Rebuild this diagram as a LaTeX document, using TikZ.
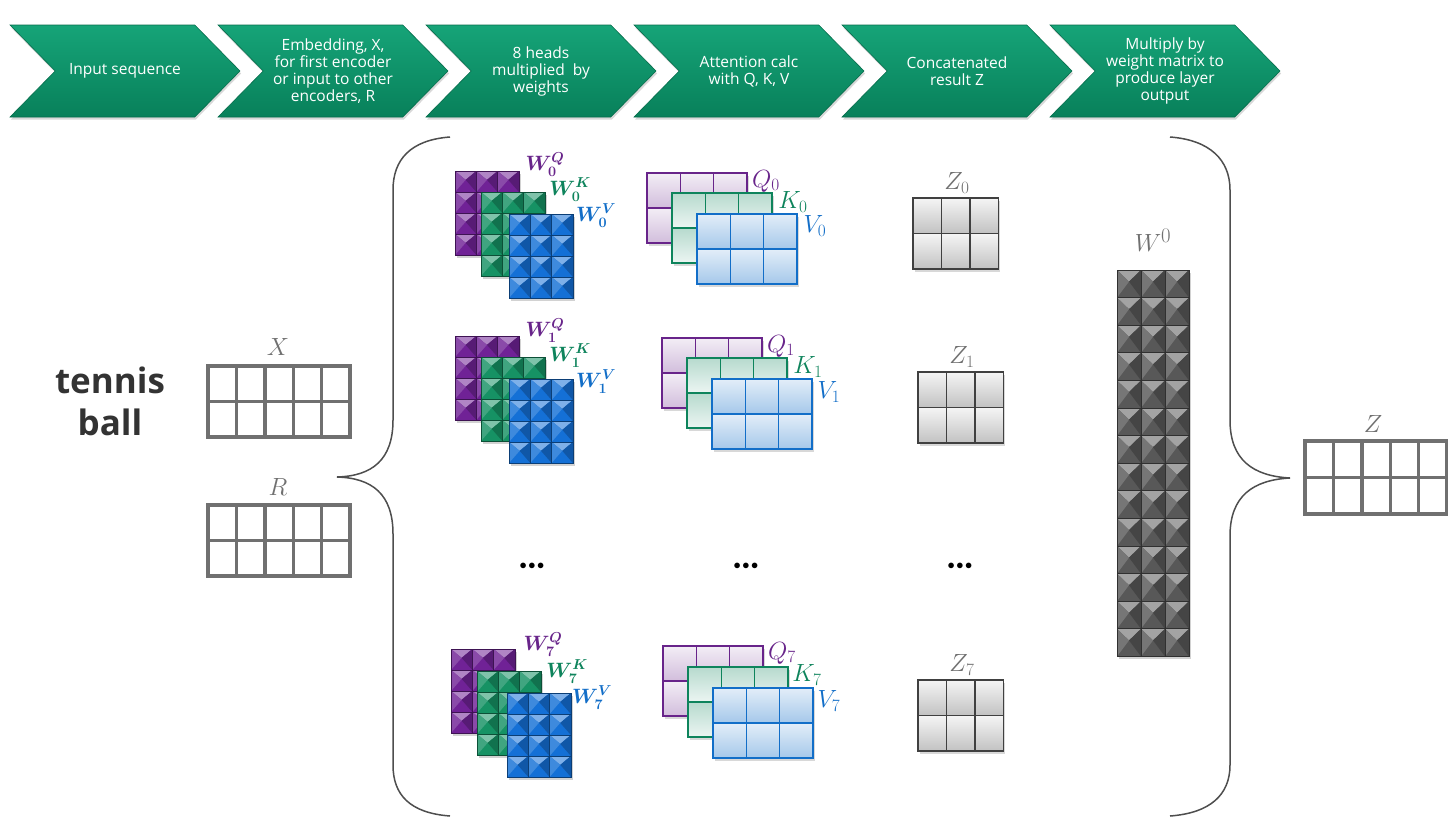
\documentclass[tikz,border=0pt]{standalone}
\usepackage{fontspec}
\setsansfont{Open Sans}
\usepackage{tikz}
\usetikzlibrary{shapes.symbols,shadows,positioning}
\definecolor{chevtop}{RGB}{22,164,120}
\definecolor{chevbot}{RGB}{8,128,90}
\definecolor{labgray}{RGB}{112,112,112}
\definecolor{gridgray}{RGB}{112,112,112}
\definecolor{bracegray}{RGB}{78,78,78}
\definecolor{purp}{RGB}{104,36,138}
\definecolor{grn}{RGB}{14,132,92}
\definecolor{blu}{RGB}{18,110,200}
\definecolor{wpurp}{RGB}{112,34,150}
\definecolor{wgrn}{RGB}{22,146,100}
\definecolor{wblu}{RGB}{20,112,214}
\definecolor{wdark}{RGB}{88,88,88}

% bevelled weight block: name, x, y, cols, rows, cell w, cell h, colour
\newcommand{\bevelmat}[8]{%
  \node[blockbase,fill=#8,minimum width={#4*#6},minimum height={#5*#7}] (#1) at (#2,#3) {};
  \foreach \ci in {1,...,#4}{
    \foreach \rj in {1,...,#5}{
      \coordinate (cell) at ({#2+(\ci-1)*#6},{#3+(\rj-1)*#7});
      \fill[#8!55!white] (cell) -- ++(#6,0) -- ++({-#6/2},{0.42*#7}) -- cycle;
      \fill[#8!82!white] (cell) -- ++({#6/2},{0.42*#7}) -- ++({-#6/2},{0.58*#7}) -- cycle;
      \fill[#8!78!black] (cell) ++(#6,0) -- ++({-#6/2},{0.42*#7}) -- ++({#6/2},{0.58*#7}) -- cycle;
      \draw[#8!55!black,line width=0.7pt] (cell) rectangle ++(#6,#7);
    }}}
% plain grid: name, x, y, cols, rows, cell w, cell h, frame style, cell style
\newcommand{\gridmat}[9]{%
  \node[#8,minimum width={#4*#6},minimum height={#5*#7}] (#1) at (#2,#3) {};
  \foreach \ci in {1,...,#4}{
    \foreach \rj in {1,...,#5}{
      \draw[#9] ({#2+(\ci-1)*#6},{#3+(\rj-1)*#7}) rectangle ++(#6,#7);
    }}}

\begin{document}
\begin{tikzpicture}[
    x=1pt,y=-1pt,
    chev/.style={signal,signal to=east,signal from=west,signal pointer angle=91,
                 minimum width=230pt,minimum height=92pt,inner sep=0pt,
                 top color=chevtop,bottom color=chevbot,draw=chevbot!85!black,line width=0.6pt,
                 text=white,align=center,font=\sffamily\fontsize{15.5}{17}\selectfont,
                 drop shadow={opacity=0.3,shadow xshift=1pt,shadow yshift=-2.5pt}},
    blockbase/.style={rectangle,anchor=north west,inner sep=0pt,outer sep=0pt,
                      drop shadow={opacity=0.35,shadow xshift=2pt,shadow yshift=-3pt}},
    frameshadow/.style={rectangle,anchor=north west,inner sep=0pt,fill=white,
                        drop shadow={opacity=0.3,shadow xshift=2pt,shadow yshift=-3pt}},
    frameplain/.style={rectangle,anchor=north west,inner sep=0pt},
    qcell/.style={draw=purp,line width=1.6pt,top color=purp!8!white,bottom color=purp!30!white},
    kcell/.style={draw=grn,line width=1.6pt,top color=grn!30!white,bottom color=grn!8!white},
    vcell/.style={draw=blu,line width=1.6pt,top color=blu!12!white,bottom color=blu!38!white},
    zcell/.style={draw=black!75,line width=1.4pt,top color=black!4,bottom color=black!24},
    xcell/.style={draw=gridgray,line width=3.4pt},
    wlab/.style={font=\fontsize{21}{21}\selectfont\boldmath},
    mlab/.style={font=\fontsize{25}{25}\selectfont},
    biglab/.style={font=\fontsize{31}{31}\selectfont,text=labgray},
    brace/.style={draw=bracegray,line width=1.5pt},
    dots/.style={font=\fontsize{15}{15}\selectfont},
  ]
  \fill[white] (0,0) rectangle (1448,819);
  \useasboundingbox (0,0) rectangle (1448,819);

  % pipeline steps
  \node[chev] (seq) at (125,71) {Input sequence};
  \node[chev] (embed) at (333,71) {Embedding, X,\\for first encoder\\or input to other\\encoders, R};
  \node[chev] (heads) at (541,71) {8 heads\\multiplied\ \ by\\weights};
  \node[chev] (attn) at (749,71) {Attention calc\\with Q, K, V};
  \node[chev] (concat) at (957,71) {Concatenated\\result Z};
  \node[chev] (proj) at (1165,71) {Multiply by\\weight matrix to\\produce layer\\output};

  % input
  \node[font=\sffamily\bfseries\fontsize{35}{42}\selectfont,text=black!80,align=center] (word) at (110,401) {tennis\\ball};
  \gridmat{xmat}{208}{366}{5}{2}{28.4}{35.5}{frameplain}{xcell}
  \node[biglab] (xlab) at (278,347) {$X$};
  \gridmat{rmat}{208}{505}{5}{2}{28.4}{35.5}{frameplain}{xcell}
  \node[biglab] (rlab) at (278,487) {$R$};

  % braces
  \draw[brace] (450,137) .. controls (410,140) and (393,160) .. (393,190) -- (393,420)
    .. controls (393,460) and (372,476) .. (337,477) .. controls (372,478) and (393,494) .. (393,534)
    -- (393,765) .. controls (393,795) and (410,813) .. (450,816);
  \draw[brace] (1170,137) .. controls (1210,140) and (1230,160) .. (1230,190) -- (1230,420)
    .. controls (1230,460) and (1253,476) .. (1290,478) .. controls (1253,480) and (1230,496) .. (1230,536)
    -- (1230,765) .. controls (1230,795) and (1210,813) .. (1170,816);

  % head 0
  \bevelmat{wq0}{455}{171}{3}{4}{21.3}{21}{wpurp}
  \bevelmat{wk0}{481}{192}{3}{4}{21.3}{21}{wgrn}
  \bevelmat{wv0}{509}{214}{3}{4}{21.3}{21}{wblu}
  \node[wlab,text=purp] (wq0l) at (545,165) {$W_0^Q$};
  \node[wlab,text=grn] (wk0l) at (570,190) {$W_0^K$};
  \node[wlab,text=blu] (wv0l) at (596,216) {$W_0^V$};
  \gridmat{q0}{647}{173}{3}{2}{33.3}{35}{frameshadow}{qcell}
  \gridmat{k0}{672}{193}{3}{2}{33.3}{35}{frameshadow}{kcell}
  \gridmat{v0}{697}{214}{3}{2}{33.3}{35}{frameshadow}{vcell}
  \node[mlab,text=purp] (q0l) at (766,181) {$Q_0$};
  \node[mlab,text=grn] (k0l) at (793,202) {$K_0$};
  \node[mlab,text=blu] (v0l) at (815,226) {$V_0$};
  \gridmat{z0}{913}{198}{3}{2}{28.4}{35.5}{frameshadow}{zcell}
  \node[mlab,text=labgray] (z0l) at (957,183) {$Z_0$};

  % head 1
  \bevelmat{wq1}{455}{336}{3}{4}{21.3}{21}{wpurp}
  \bevelmat{wk1}{481}{357}{3}{4}{21.3}{21}{wgrn}
  \bevelmat{wv1}{509}{379}{3}{4}{21.3}{21}{wblu}
  \node[wlab,text=purp] (wq1l) at (545,331) {$W_1^Q$};
  \node[wlab,text=grn] (wk1l) at (570,356) {$W_1^K$};
  \node[wlab,text=blu] (wv1l) at (596,382) {$W_1^V$};
  \gridmat{q1}{662}{338}{3}{2}{33.3}{35}{frameshadow}{qcell}
  \gridmat{k1}{687}{358}{3}{2}{33.3}{35}{frameshadow}{kcell}
  \gridmat{v1}{712}{379}{3}{2}{33.3}{35}{frameshadow}{vcell}
  \node[mlab,text=purp] (q1l) at (781,346) {$Q_1$};
  \node[mlab,text=grn] (k1l) at (808,367) {$K_1$};
  \node[mlab,text=blu] (v1l) at (829,392) {$V_1$};
  \gridmat{z1}{918}{372}{3}{2}{28.4}{35.5}{frameshadow}{zcell}
  \node[mlab,text=labgray] (z1l) at (962,357) {$Z_1$};

  % skipped heads
  \node[dots] (wdots) at (532,566) {$\bullet\mkern-2mu\bullet\mkern-2mu\bullet$};
  \node[dots] (qdots) at (746,566) {$\bullet\mkern-2mu\bullet\mkern-2mu\bullet$};
  \node[dots] (zdots) at (960,566) {$\bullet\mkern-2mu\bullet\mkern-2mu\bullet$};

  % head 7
  \bevelmat{wq7}{451}{649}{3}{4}{21.3}{21}{wpurp}
  \bevelmat{wk7}{477}{671}{3}{4}{21.3}{21}{wgrn}
  \bevelmat{wv7}{507}{693}{3}{4}{21.3}{21}{wblu}
  \node[wlab,text=purp] (wq7l) at (543,645) {$W_7^Q$};
  \node[wlab,text=grn] (wk7l) at (567,672) {$W_7^K$};
  \node[wlab,text=blu] (wv7l) at (592,698) {$W_7^V$};
  \gridmat{q7}{663}{646}{3}{2}{33.3}{35}{frameshadow}{qcell}
  \gridmat{k7}{688}{667}{3}{2}{33.3}{35}{frameshadow}{kcell}
  \gridmat{v7}{713}{688}{3}{2}{33.3}{35}{frameshadow}{vcell}
  \node[mlab,text=purp] (q7l) at (782,653) {$Q_7$};
  \node[mlab,text=grn] (k7l) at (807,675) {$K_7$};
  \node[mlab,text=blu] (v7l) at (829,701) {$V_7$};
  \gridmat{z7}{918}{680}{3}{2}{28.4}{35.5}{frameshadow}{zcell}
  \node[mlab,text=labgray] (z7l) at (962,665) {$Z_7$};

  % output weights and result
  \bevelmat{wo}{1117}{270}{3}{14}{24}{27.6}{wdark}
  \node[mlab,font=\fontsize{28}{28}\selectfont,text=labgray] (wol) at (1153,240) {$W^0$};
  \gridmat{zmat}{1305}{441}{5}{2}{28.4}{36.5}{frameplain}{xcell}
  \node[biglab] (zlab) at (1373,424) {$Z$};
\end{tikzpicture}
\end{document}
